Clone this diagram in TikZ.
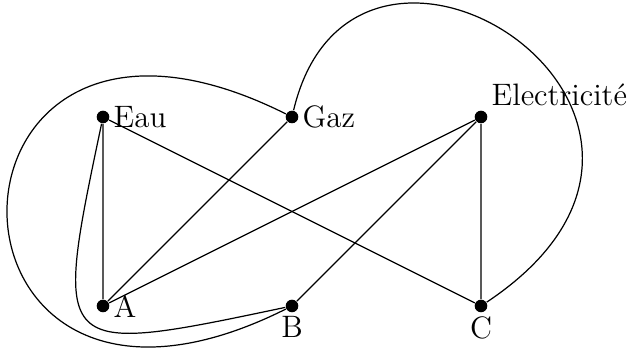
\documentclass[tikz,border=0pt]{standalone}
\usepackage{tikz}
\usetikzlibrary{positioning}

\begin{document}
\begin{tikzpicture}[line width=0.55pt,
        sommet/.style={circle,fill,inner sep=0pt,minimum size=0.2cm},
        nom/.style={inner sep=0.16cm,font=\fontsize{14}{17}\selectfont}]
        \useasboundingbox (-1.635,-0.698) rectangle (8.413,4.857);
        % les trois maisons et les trois services
        \node[sommet] (eau) at (0,3) {};
        \node[sommet] (gaz) at (3,3) {};
        \node[sommet] (elec) at (6,3) {};
        \node[sommet] (a) at (0,0) {};
        \node[sommet] (b) at (3,0) {};
        \node[sommet] (c) at (6,0) {};
        \node[nom,anchor=west] (eaunom) at (eau.center) {Eau};
        \node[nom,anchor=west] (gaznom) at (gaz.center) {Gaz};
        \node[nom,anchor=south west] (elecnom) at (elec.center) {Electricit\'e};
        \node[nom,anchor=west] (anom) at (a.center) {A};
        \node[nom,anchor=north] (bnom) at (b.center) {B};
        \node[nom,anchor=north] (cnom) at (c.center) {C};
        \draw (eau) -- (a) (eau) -- (c) (gaz) -- (a);
        \draw (elec) -- (a) (elec) -- (b) (elec) -- (c);
        \draw (eau) .. controls (-0.8,-0.8) .. (b);
        \draw (gaz) .. controls (-3,6) and (-3,-3) .. (b);
        \draw (gaz) .. controls (4,7.2) and (10.5,3) .. (c);
      \end{tikzpicture}
\end{document}
